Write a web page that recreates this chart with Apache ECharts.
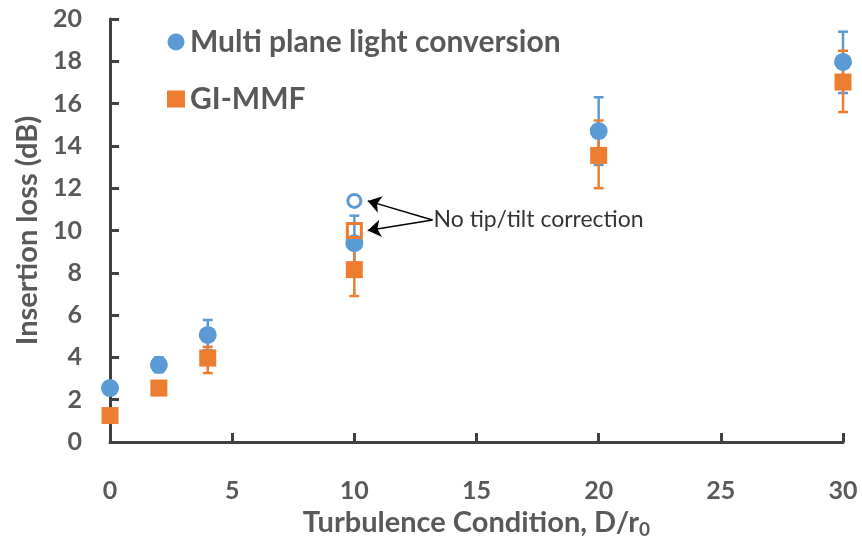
<!DOCTYPE html>
<html>
<head>
<meta charset="utf-8">
<script src="https://cdn.jsdelivr.net/npm/echarts@6/dist/echarts.min.js"></script>
<style>
  html, body { margin: 0; padding: 0; background: #fff; }
  #main { width: 862px; height: 539px; }
</style>
</head>
<body>
<div id="main"></div>
<script>
// data
const xValues = [0, 2, 4, 10, 20, 30];
const mplcValues = [2.55, 3.65, 5.06, 9.4, 14.7, 17.97];
const mmfValues = [1.25, 2.55, 3.97, 8.15, 13.55, 17.02];
// error bars: [x, low, high]
const mplcErr = [[2, 3.3, 4.0], [4, 4.35, 5.77], [10, 8.1, 10.7], [20, 13.1, 16.3], [30, 16.5, 19.4]];
const mmfErr = [[4, 3.26, 4.5], [10, 6.9, 9.4], [20, 12.0, 15.2], [30, 15.6, 18.5]];
// no tip/tilt correction points
const mplcNoTilt = [[10, 11.4]];
const mmfNoTilt = [[10, 10.0]];
const noteText = 'No tip/tilt correction';
const notePos = [13.2, 10.5];

const blue = '#5B9BD5';
const orange = '#ED7D31';
const grey = '#595959';
const font = 'Lato';

function errBar(color) {
    return function (params, api) {
        const top = api.coord([api.value(0), api.value(2)]);
        const bot = api.coord([api.value(0), api.value(1)]);
        const w = 5;
        const style = { stroke: color, lineWidth: 2.5 };
        return {
            type: 'group',
            children: [
                { type: 'line', shape: { x1: top[0], y1: top[1], x2: bot[0], y2: bot[1] }, style: style },
                { type: 'line', shape: { x1: top[0] - w, y1: top[1], x2: top[0] + w, y2: top[1] }, style: style },
                { type: 'line', shape: { x1: bot[0] - w, y1: bot[1], x2: bot[0] + w, y2: bot[1] }, style: style }
            ]
        };
    };
}

const chart = echarts.init(document.getElementById('main'));

const option = {
    animation: false,
    textStyle: { fontFamily: font },
    grid: { left: 110, right: 19, top: 19, bottom: 97, containLabel: false, outerBoundsMode: 'none' },
    legend: {
        data: [
            { name: 'Multi plane light conversion', icon: 'circle' },
            { name: 'GI-MMF', icon: 'rect' }
        ],
        orient: 'vertical',
        left: 162,
        top: 22,
        itemGap: 27,
        itemWidth: 18,
        itemHeight: 17,
        textStyle: { color: grey, fontSize: 30, fontWeight: 'bold', fontFamily: font }
    },
    xAxis: {
        type: 'value',
        min: 0,
        max: 30,
        interval: 5,
        name: 'Turbulence Condition, D/r{sub|0}',
        nameLocation: 'middle',
        nameGap: 64,
        nameTextStyle: {
            color: grey, fontSize: 29, fontWeight: 'bold', fontFamily: font,
            rich: { sub: { fontSize: 19, fontWeight: 'bold', color: grey, verticalAlign: 'bottom', padding: [14, 0, 0, 0] } }
        },
        axisLine: { lineStyle: { color: '#404040', width: 3 } },
        axisTick: { inside: true, length: 9, lineStyle: { color: '#404040', width: 3 } },
        axisLabel: { margin: 36, color: grey, fontSize: 25, fontWeight: 'bold', fontFamily: font },
        splitLine: { show: false }
    },
    yAxis: {
        type: 'value',
        min: 0,
        max: 20,
        interval: 2,
        name: 'Insertion loss (dB)',
        nameLocation: 'middle',
        nameGap: 66,
        nameTextStyle: { color: grey, fontSize: 29, fontWeight: 'bold', fontFamily: font },
        axisLine: { show: true, lineStyle: { color: '#404040', width: 3 } },
        axisTick: { show: true, inside: true, length: 9, lineStyle: { color: '#404040', width: 3 } },
        axisLabel: { margin: 28, color: grey, fontSize: 25, fontWeight: 'bold', fontFamily: font },
        splitLine: { show: false }
    },
    series: [
        {
            name: 'mplcErr',
            type: 'custom',
            renderItem: errBar(blue),
            data: mplcErr,
            z: 1,
            silent: true
        },
        {
            name: 'mmfErr',
            type: 'custom',
            renderItem: errBar(orange),
            data: mmfErr,
            z: 2,
            silent: true
        },
        {
            name: 'Multi plane light conversion',
            type: 'scatter',
            symbol: 'circle',
            symbolSize: 18,
            itemStyle: { color: blue, opacity: 1 },
            data: xValues.map((x, i) => [x, mplcValues[i]]),
            z: 3
        },
        {
            name: 'GI-MMF',
            type: 'scatter',
            symbol: 'rect',
            symbolSize: 17,
            itemStyle: { color: orange, opacity: 1 },
            data: xValues.map((x, i) => [x, mmfValues[i]]),
            z: 4
        },
        {
            name: 'mplcNoTilt',
            type: 'scatter',
            symbol: 'circle',
            symbolSize: 13,
            itemStyle: { color: '#fff', borderColor: blue, borderWidth: 3, opacity: 1 },
            data: mplcNoTilt,
            z: 5
        },
        {
            name: 'mmfNoTilt',
            type: 'scatter',
            symbol: 'rect',
            symbolSize: 14,
            itemStyle: { color: 'rgba(255,255,255,0)', borderColor: orange, borderWidth: 3, opacity: 1 },
            data: mmfNoTilt,
            z: 5
        },
        {
            name: 'note',
            type: 'scatter',
            symbolSize: 0,
            data: [notePos],
            z: 6,
            silent: true,
            label: {
                show: true,
                position: 'right',
                distance: 1,
                formatter: noteText,
                color: '#000',
                fontSize: 23,
                fontFamily: font
            },
            markLine: {
                silent: true,
                symbol: ['none', 'arrow'],
                symbolSize: 13,
                label: { show: false },
                lineStyle: { color: '#000', width: 1.5, type: 'solid' },
                data: [
                    [{ coord: notePos }, { coord: [10.55, 11.4] }],
                    [{ coord: notePos }, { coord: [10.55, 10.0] }]
                ]
            }
        }
    ]
};

chart.setOption(option);
</script>
</body>
</html>
